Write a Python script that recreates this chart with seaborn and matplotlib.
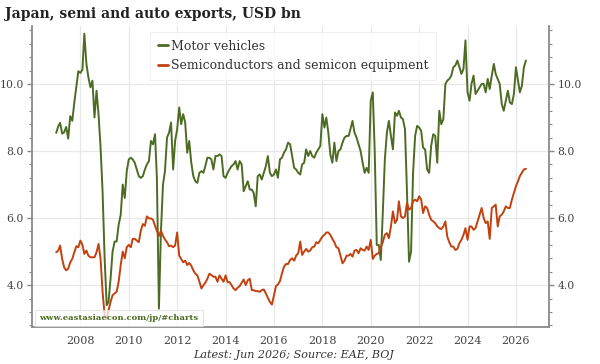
import numpy as np
import pandas as pd
import matplotlib
matplotlib.use("Agg")
import matplotlib.pyplot as plt
import matplotlib.dates as mdates
from matplotlib.ticker import MultipleLocator, FormatStrFormatter
import seaborn as sns

# Monthly data, Jan 2007 .. Jun 2026 (USD bn)
motor_vehicles = [
    8.54, 8.74, 8.84, 8.52, 8.56, 8.72, 8.37, 9.04, 8.9, 9.44, 9.93, 10.38,   # 2007
    10.33, 10.43, 11.5, 10.6, 10.2, 9.9, 10.1, 9.0, 9.8, 9.1, 8.1, 6.8,       # 2008
    4.8, 3.4, 3.5, 4.2, 5.0, 5.3, 5.3, 5.8, 6.1, 7.0, 6.6, 7.4,               # 2009
    7.75, 7.8, 7.75, 7.65, 7.45, 7.25, 7.2, 7.25, 7.45, 7.6, 7.7, 8.3,        # 2010
    8.2, 8.5, 7.2, 3.3, 5.6, 7.0, 7.4, 8.4, 8.55, 8.85, 7.45, 8.3,            # 2011
    8.65, 9.3, 8.8, 9.1, 8.85, 7.95, 8.3, 7.65, 7.25, 7.1, 7.05, 7.35,        # 2012
    7.4, 7.35, 7.55, 7.8, 7.8, 7.75, 7.45, 7.85, 7.85, 7.9, 7.85, 7.25,       # 2013
    7.2, 7.35, 7.45, 7.55, 7.6, 7.7, 7.45, 7.7, 7.6, 6.8, 6.95, 7.1,          # 2014
    6.85, 6.85, 6.75, 6.35, 7.25, 7.3, 7.15, 7.35, 7.55, 7.85, 7.35, 7.25,    # 2015
    7.3, 7.45, 7.2, 7.75, 7.8, 7.95, 8.05, 8.25, 8.2, 7.85, 7.5, 7.45,        # 2016
    7.35, 7.3, 7.6, 7.65, 8.05, 7.85, 8.0, 7.85, 7.8, 7.95, 8.05, 8.15,       # 2017
    9.1, 8.7, 9.0, 8.55, 7.9, 7.65, 8.25, 7.7, 8.0, 8.05, 8.25, 8.4,          # 2018
    8.45, 8.45, 8.65, 8.9, 8.55, 8.4, 8.2, 8.0, 7.65, 7.35, 7.5, 7.35,        # 2019
    9.5, 9.75, 8.0, 5.2, 5.2, 4.75, 6.15, 7.75, 8.55, 8.9, 8.45, 8.05,        # 2020
    9.15, 9.05, 9.2, 9.0, 8.95, 8.65, 6.8, 4.7, 5.0, 7.35, 8.45, 8.75,        # 2021
    8.7, 8.6, 8.1, 8.05, 7.45, 7.35, 8.15, 8.5, 8.45, 7.65, 9.2, 8.8,         # 2022
    8.95, 10.0, 10.1, 10.15, 10.25, 10.5, 10.55, 10.7, 10.5, 10.3, 10.45, 11.3,  # 2023
    9.75, 9.5, 10.0, 10.25, 9.7, 9.8, 9.9, 10.0, 10.0, 9.75, 10.15, 9.85,     # 2024
    10.25, 10.6, 10.3, 10.15, 10.0, 9.4, 9.2, 9.5, 9.8, 9.45, 9.4, 9.7,       # 2025
    10.5, 10.1, 9.75, 9.95, 10.5, 10.7,                                       # 2026
]

semiconductors = [
    4.98, 5.03, 5.18, 4.78, 4.53, 4.44, 4.49, 4.68, 4.78, 4.98, 5.16, 5.13,   # 2007
    5.33, 5.2, 4.93, 5.03, 4.88, 4.83, 4.83, 4.83, 4.98, 5.23, 4.78, 3.8,     # 2008
    3.1, 3.0, 3.25, 3.5, 3.7, 3.75, 3.8, 4.1, 4.6, 5.0, 4.8, 5.13,            # 2009
    5.2, 5.13, 5.38, 5.38, 5.33, 5.28, 5.62, 5.82, 5.77, 6.05, 5.99, 5.99,    # 2010
    5.95, 5.77, 5.62, 5.47, 5.62, 5.47, 5.36, 5.28, 5.16, 5.18, 5.13, 5.18,   # 2011
    5.57, 4.88, 4.78, 4.68, 4.73, 4.6, 4.66, 4.58, 4.44, 4.34, 4.29, 4.11,    # 2012
    3.9, 4.0, 4.07, 4.19, 4.34, 4.3, 4.25, 4.25, 4.1, 4.29, 4.19, 4.1,        # 2013
    4.29, 4.09, 4.09, 4.0, 3.9, 3.85, 3.92, 3.97, 4.07, 4.17, 4.0, 4.14,      # 2014
    4.19, 3.85, 3.85, 3.82, 3.82, 3.8, 3.85, 3.87, 3.75, 3.62, 3.5, 3.42,     # 2015
    3.7, 3.97, 4.02, 4.12, 4.35, 4.55, 4.63, 4.63, 4.75, 4.8, 4.73, 4.88,     # 2016
    4.95, 5.3, 4.9, 5.0, 5.08, 5.0, 5.03, 5.13, 5.15, 5.28, 5.25, 5.35,       # 2017
    5.45, 5.5, 5.57, 5.57, 5.5, 5.38, 5.28, 5.13, 5.1, 4.88, 4.65, 4.73,      # 2018
    4.88, 4.88, 4.93, 4.85, 5.03, 5.05, 4.95, 5.1, 5.05, 5.03, 5.15, 5.05,    # 2019
    5.35, 4.78, 4.88, 4.93, 4.95, 5.13, 5.28, 5.5, 5.55, 5.4, 5.75, 6.2,      # 2020
    5.85, 5.95, 6.5, 6.05, 6.0, 6.05, 6.45, 6.25, 6.3, 6.5, 6.55, 6.5,        # 2021
    6.65, 6.55, 6.15, 6.35, 6.3, 6.1, 5.95, 5.9, 5.85, 5.75, 5.7, 5.67,       # 2022
    5.75, 5.9, 5.45, 5.28, 5.15, 5.15, 5.05, 5.08, 5.25, 5.35, 5.5, 5.7,      # 2023
    5.35, 5.75, 5.75, 5.65, 5.7, 5.9, 6.1, 6.3, 6.0, 5.85, 5.9, 5.38,         # 2024
    6.3, 6.35, 6.4, 5.75, 6.05, 6.1, 6.2, 6.35, 6.3, 6.3, 6.55, 6.75,         # 2025
    6.95, 7.1, 7.25, 7.35, 7.45, 7.47,                                        # 2026
]

series_names = ["Motor vehicles", "Semiconductors and semicon equipment"]
series_colors = ["#4e6b24", "#c2410e"]

dates = pd.date_range("2007-01-01", periods=len(motor_vehicles), freq="MS")
wide = pd.DataFrame({"date": dates,
                     series_names[0]: motor_vehicles,
                     series_names[1]: semiconductors})
df = wide.melt(id_vars="date", var_name="series", value_name="value")

sns.set_theme(style="white")
plt.rcParams["font.family"] = ["DejaVu Serif"]

fig = plt.figure(figsize=(6, 3.64), dpi=100)
ax = fig.add_axes([0.0538, 0.1016, 0.8612, 0.827])

sns.lineplot(data=df, x="date", y="value", hue="series", hue_order=series_names,
             palette=series_colors, linewidth=1.4, ax=ax)

ax.set_xlim(pd.Timestamp("2006-01-05"), pd.Timestamp("2027-05-15"))
ax.set_ylim(2.75, 11.73)
ax.set_xlabel("")
ax.set_ylabel("")

ax.xaxis.set_major_locator(mdates.YearLocator(2))
ax.xaxis.set_minor_locator(mdates.YearLocator(1))
ax.xaxis.set_major_formatter(mdates.DateFormatter("%Y"))
ax.yaxis.set_major_locator(MultipleLocator(2))
ax.yaxis.set_minor_locator(MultipleLocator(0.4))
ax.yaxis.set_major_formatter(FormatStrFormatter("%.1f"))

ax.tick_params(axis="both", which="both", direction="out", colors="#888888",
               labelcolor="#444444")
ax.tick_params(axis="x", labelsize=8, pad=3)
ax.tick_params(axis="y", which="both", left=True, right=True, labelleft=True,
               labelright=True, labelsize=7.8, pad=2.5)
ax.tick_params(which="major", length=3.5, width=1)
ax.tick_params(which="minor", length=2.5, width=0.8)

for s in ["left", "right", "bottom"]:
    ax.spines[s].set_color("#8a8a8a")
    ax.spines[s].set_linewidth(1.3)
ax.spines["top"].set_visible(False)

ax.grid(True, which="major", color="#e8e8e8", linewidth=0.9)
ax.set_axisbelow(True)

handles, labels = ax.get_legend_handles_labels()
leg = ax.legend(handles, labels, loc="upper left", bbox_to_anchor=(0.228, 0.98),
                borderaxespad=0, frameon=True, fancybox=False, edgecolor="#eeeeee",
                fontsize=9, handlelength=0.8, handletextpad=0.3, borderpad=0.6,
                labelspacing=0.55)
leg.get_frame().set_linewidth(0.8)
for t in leg.get_texts():
    t.set_color("#333333")
for h in leg.get_lines():
    h.set_linewidth(2)

ax.text(0.014, 0.03, "www.eastasiaecon.com/jp/#charts", transform=ax.transAxes,
        fontsize=6, fontweight="bold", color="#4b6b21", va="center", ha="left",
        zorder=10,
        bbox=dict(boxstyle="square,pad=0.5", fc="white", ec="#dddddd", alpha=0.75, lw=0.8))

fig.text(0.008, 0.962, "Japan, semi and auto exports, USD bn", fontsize=10,
         fontweight="bold", color="#222222", va="center", ha="left")
fig.text(0.49, 0.025, "Latest: Jun 2026; Source: EAE, BOJ", fontsize=8,
         style="italic", color="#333333", va="center", ha="center")

fig.savefig("out.png", dpi=100)
